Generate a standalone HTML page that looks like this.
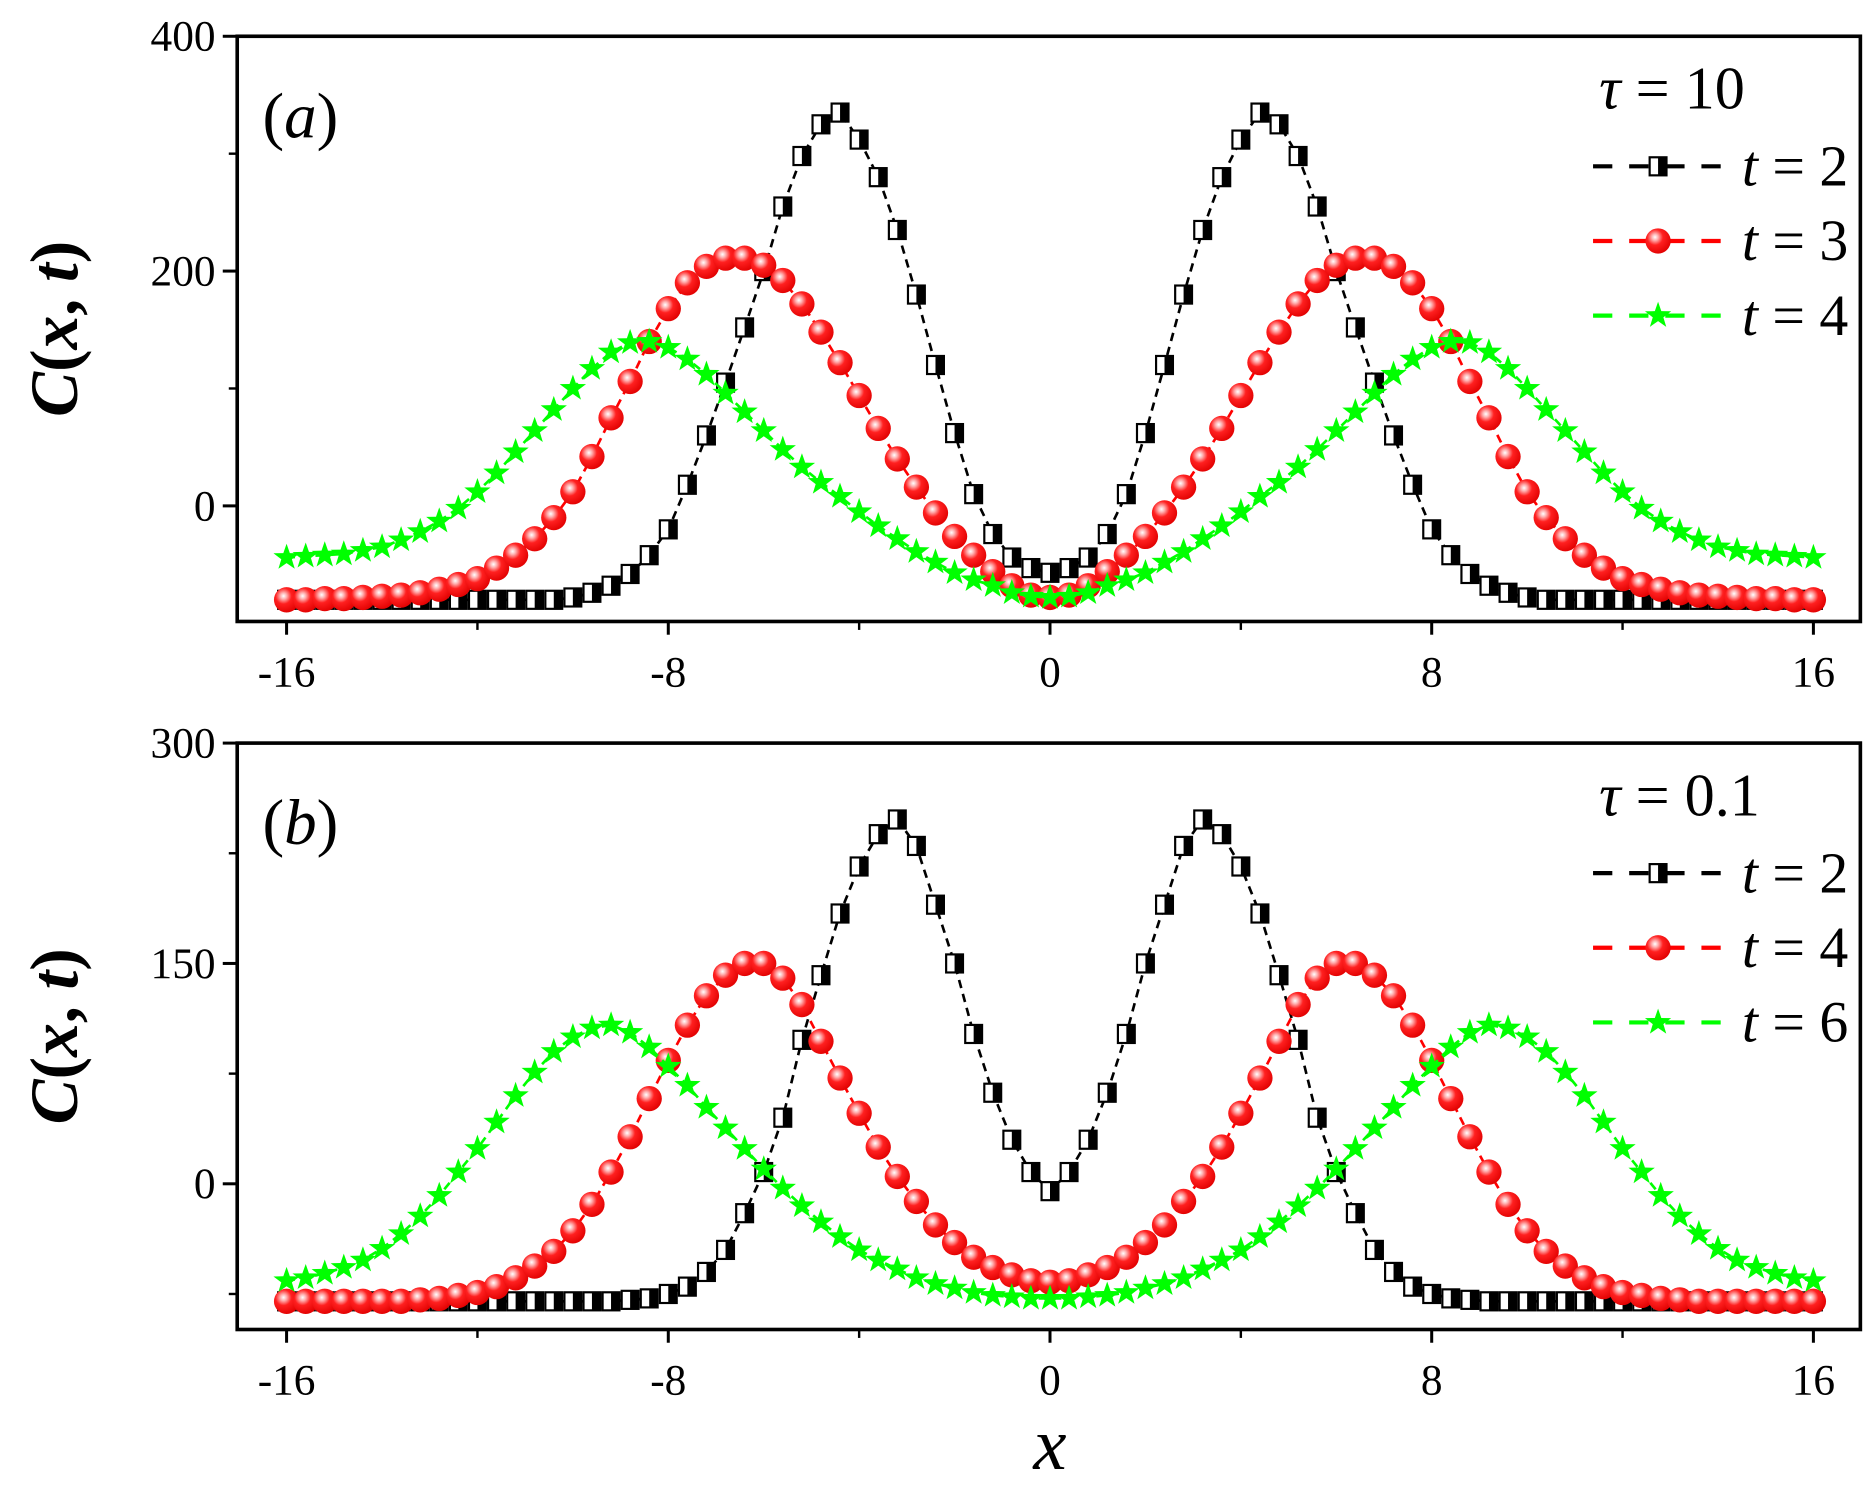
<!DOCTYPE html>
<html><head><meta charset="utf-8"><style>
html,body{margin:0;padding:0;background:#fff;}
svg{display:block;}
text{font-family:"Liberation Serif",serif;fill:#000;}
</style></head>
<body>
<svg id="chart" width="1870" height="1491" viewBox="0 0 1553 1238" xmlns="http://www.w3.org/2000/svg">
<defs>
<radialGradient id="ball" cx="0.38" cy="0.35" r="0.7">
<stop offset="0" stop-color="#fff"/><stop offset="0.18" stop-color="#ffb0b0"/><stop offset="0.45" stop-color="#ff2020"/><stop offset="1" stop-color="#e00000"/>
</radialGradient>
</defs>
<g id="root"></g>
</svg>
<script>
// x positions (shared)
const xValues = [-16,-15.6,-15.2,-14.8,-14.4,-14,-13.6,-13.2,-12.8,-12.4,-12,-11.6,-11.2,-10.8,-10.4,-10,-9.6,-9.2,-8.8,-8.4,-8,-7.6,-7.2,-6.8,-6.4,-6,-5.6,-5.2,-4.8,-4.4,-4,-3.6,-3.2,-2.8,-2.4,-2,-1.6,-1.2,-0.8,-0.4,0,0.4,0.8,1.2,1.6,2,2.4,2.8,3.2,3.6,4,4.4,4.8,5.2,5.6,6,6.4,6.8,7.2,7.6,8,8.4,8.8,9.2,9.6,10,10.4,10.8,11.2,11.6,12,12.4,12.8,13.2,13.6,14,14.4,14.8,15.2,15.6,16];
// panel (a), tau = 10
const aT2 = [-80,-80,-80,-80,-80,-80,-80,-80,-80,-80,-80,-80,-80,-80,-80,-78,-74,-68,-58,-42,-20,18,60,105,152,200,255,298,325,335,312,280,235,180,120,62,10,-24,-44,-53,-57,-53,-44,-24,10,62,120,180,235,280,312,335,325,298,255,200,152,105,60,18,-20,-42,-58,-68,-74,-78,-80,-80,-80,-80,-80,-80,-80,-80,-80,-80,-80,-80,-80,-80,-80];
const aT3 = [-80,-80,-79,-79,-78,-77,-76,-74,-71,-67,-62,-53,-42,-28,-10,12,42,75,106,140,168,190,204,211,211,205,192,172,148,122,94,66,40,16,-6,-26,-42,-56,-68,-76,-78,-76,-68,-56,-42,-26,-6,16,40,66,94,122,148,172,192,205,211,211,204,190,168,140,106,75,42,12,-10,-28,-42,-53,-62,-67,-71,-74,-76,-77,-78,-79,-79,-80,-80];
const aT4 = [-44,-43,-42,-41,-38,-35,-29,-22,-13,-2,12,28,46,64,82,100,117,131,139,140,135,125,112,96,80,64,48,33,20,8,-5,-17,-28,-39,-48,-57,-63,-68,-74,-77,-78,-77,-74,-68,-63,-57,-48,-39,-28,-17,-5,8,20,33,48,64,80,96,112,125,135,140,139,131,117,100,82,64,46,28,12,-2,-13,-22,-29,-35,-38,-41,-42,-43,-44];
// panel (b), tau = 0.1
const bT2 = [-80,-80,-80,-80,-80,-80,-80,-80,-80,-80,-80,-80,-80,-80,-80,-80,-80,-80,-79,-78,-75,-70,-60,-45,-20,8,45,98,142,184,216,238,248,230,190,150,102,62,30,8,-5,8,30,62,102,150,190,230,248,238,216,184,142,98,45,8,-20,-45,-60,-70,-75,-78,-79,-80,-80,-80,-80,-80,-80,-80,-80,-80,-80,-80,-80,-80,-80,-80,-80,-80,-80];
const bT4 = [-80,-80,-80,-80,-80,-80,-80,-79,-78,-76,-74,-70,-64,-56,-46,-32,-14,8,32,58,84,108,128,142,150,150,140,122,97,72,48,25,5,-12,-28,-40,-50,-57,-62,-66,-67,-66,-62,-57,-50,-40,-28,-12,5,25,48,72,97,122,140,150,150,142,128,108,84,58,32,8,-14,-32,-46,-56,-64,-70,-74,-76,-78,-79,-80,-80,-80,-80,-80,-80,-80];
const bT6 = [-66,-64,-61,-57,-52,-44,-34,-22,-8,8,24,42,60,76,90,100,106,108,103,93,80,67,52,38,24,10,-3,-15,-26,-36,-45,-52,-58,-64,-68,-71,-74,-76,-77,-78,-78,-78,-77,-76,-74,-71,-68,-64,-58,-52,-45,-36,-26,-15,-3,10,24,38,52,67,80,93,103,108,106,100,90,76,60,42,24,8,-8,-22,-34,-44,-52,-57,-61,-64,-66];
const xTicks = [-16,-8,0,8,16];
const xMinor = [-12,-4,4,12];
const aYTicks = [0,200,400];
const aYMinor = [100,300];
const bYTicks = [0,150,300];
const bYMinor = [-75,75,225];

const NS = 'http://www.w3.org/2000/svg';
const root = document.getElementById('root');
function mk(tag, attrs, parent){
  const e = document.createElementNS(NS, tag);
  for (const k in attrs) e.setAttribute(k, attrs[k]);
  (parent||root).appendChild(e);
  return e;
}
const X0 = 238, X1 = 1506;
function xs(v){ return X0 + (v + 16) * (X1 - X0) / 32; }

function panel(cfg){
  const g = mk('g', {});
  
  
  const ys = v => cfg.y0 - (v - cfg.v0) * cfg.k;
  cfg.yTicks.forEach(t => {
    const l = mk('line', {x1:185, x2:197, y1:ys(t), y2:ys(t), stroke:'#000','stroke-width':2.5}, g);
    
    
    const tx = mk('text', {x:179, y:ys(t)+12, 'text-anchor':'end','font-size':36}, g);
    tx.textContent = t;
    
    
  });
  cfg.yMinor.forEach(t => {
    const l = mk('line', {x1:190, x2:197, y1:ys(t), y2:ys(t), stroke:'#000','stroke-width':2}, g);
    
    
  });
  xTicks.forEach(t => {
    const l = mk('line', {x1:xs(t), x2:xs(t), y1:cfg.bot, y2:cfg.bot+11, stroke:'#000','stroke-width':2.5}, g);
    
    
    const tx = mk('text', {x:xs(t), y:cfg.bot+54, 'text-anchor':'middle','font-size':36}, g);
    tx.textContent = t;
    
    
  });
  xMinor.forEach(t => {
    const l = mk('line', {x1:xs(t), x2:xs(t), y1:cfg.bot, y2:cfg.bot+7, stroke:'#000','stroke-width':2}, g);
    
    
  });
  cfg.series.forEach(s => {
    const sg = mk('g', {}, g);
    
    
    const pts = s.vals.map((v,i) => xs(xValues[i]).toFixed(1) + ',' + ys(v).toFixed(1)).join(' ');
    const pl = mk('polyline', {points:pts, fill:'none', stroke:s.color, 'stroke-width':2.2, 'stroke-dasharray':'7,5'}, sg);
    
    
    s.vals.forEach((v,i) => {
      const m = marker(s.type, xs(xValues[i]), ys(v), sg);
      
      
    });
  });
  const fr = mk('rect', {x:197, y:cfg.top, width:1348, height:cfg.bot-cfg.top, fill:'none', stroke:'#000','stroke-width':3}, g);
  
  
  const yt = mk('text', {x:0, y:0, 'font-size':56, 'font-weight':'bold', 'text-anchor':'middle',
    transform:'translate(64,' + ((cfg.top+cfg.bot)/2) + ') rotate(-90)'}, g);
  yt.innerHTML = '<tspan font-style="italic">C</tspan>(<tspan font-style="italic">x</tspan>, <tspan font-style="italic">t</tspan>)';
  
  
  const pl = mk('text', {x:218, y:cfg.top+84, 'font-size':54, 'font-style':'italic'}, g);
  pl.innerHTML = '<tspan font-style="normal">(</tspan>' + cfg.letter + '<tspan font-style="normal">)</tspan>';
  
  
  const tau = mk('text', {x:1328, y:cfg.top+60, 'font-size':50}, g);
  tau.innerHTML = '<tspan font-style="italic">τ</tspan> = ' + cfg.tau;
  
  
  cfg.series.forEach((s,i) => {
    const ly = cfg.top + 108 + i*62;
    const lg = mk('g', {}, g);
    
    
    mk('line', {x1:1323, x2:1432, y1:ly, y2:ly, stroke:s.color, 'stroke-width':3.5, 'stroke-dasharray':'16,14'}, lg);
    marker(s.type, 1377, ly, lg);
    const t = mk('text', {x:1535, y:ly+16, 'text-anchor':'end', 'font-size':48}, lg);
    t.innerHTML = '<tspan font-style="italic">t</tspan> = ' + s.label;
  });
}
function marker(type, x, y, parent){
  const g = mk('g', {}, parent);
  if (type === 'sq') {
    mk('rect', {x:x-7, y:y-7.5, width:14, height:15, fill:'#fff', stroke:'#000', 'stroke-width':1.8}, g);
    mk('rect', {x:x, y:y-7.5, width:7, height:15, fill:'#000'}, g);
  } else if (type === 'ci') {
    mk('circle', {cx:x, cy:y, r:10.5, fill:'url(#ball)'}, g);
  } else {
    const p = [];
    for (let k=0;k<10;k++){
      const r = k%2 ? 4.6 : 11.5;
      const a = -Math.PI/2 + k*Math.PI/5;
      p.push((x + r*Math.cos(a)).toFixed(1) + ',' + (y + r*Math.sin(a)).toFixed(1));
    }
    mk('polygon', {points:p.join(' '), fill:'#00ff00'}, g);
  }
  return g;
}
panel({name:'panel-a', letter:'a', tau:'10', top:30, bot:516, y0:420, v0:0, k:0.975,
  yTicks:aYTicks, yMinor:aYMinor,
  series:[{name:'series-t2',vals:aT2,color:'#000',type:'sq',label:'2'},
          {name:'series-t3',vals:aT3,color:'#ff0000',type:'ci',label:'3'},
          {name:'series-t4',vals:aT4,color:'#00ff00',type:'st',label:'4'}]});
panel({name:'panel-b', letter:'b', tau:'0.1', top:617, bot:1104, y0:983, v0:0, k:1.22,
  yTicks:bYTicks, yMinor:bYMinor,
  series:[{name:'series-t2',vals:bT2,color:'#000',type:'sq',label:'2'},
          {name:'series-t4',vals:bT4,color:'#ff0000',type:'ci',label:'4'},
          {name:'series-t6',vals:bT6,color:'#00ff00',type:'st',label:'6'}]});
const xt = mk('text', {x:872, y:1220, 'text-anchor':'middle', 'font-size':62, 'font-style':'italic'});
xt.textContent = 'x';


</script>
</body></html>
